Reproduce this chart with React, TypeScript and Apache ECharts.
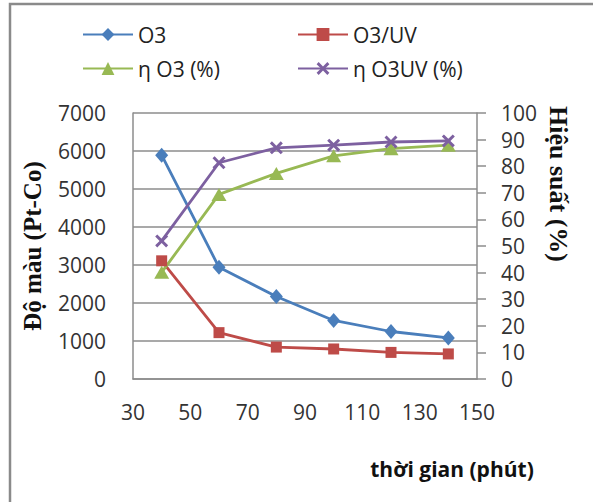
import React, { useEffect, useRef } from "react";
import * as echarts from "echarts";

const timeMinutes = [40, 60, 80, 100, 120, 140];
const colourO3 = [5890, 2940, 2170, 1540, 1250, 1080];
const colourO3UV = [3110, 1220, 840, 790, 700, 660];
const effO3 = [40.1, 69.4, 77.3, 83.9, 86.6, 87.9];
const effO3UV = [51.9, 81.3, 86.9, 87.9, 89.1, 89.5];

const seriesNames = ["O3", "O3/UV", "η O3 (%)", "η O3UV (%)"];

const SANS = "'Open Sans', 'Liberation Sans', sans-serif";
const SERIF = "'Liberation Serif', 'DejaVu Serif', serif";
const GRID_COLOR = "#8c8c8c";
const CROSS =
  "path://M0,1.6 L1.6,0 L5,3.4 L8.4,0 L10,1.6 L6.6,5 L10,8.4 L8.4,10 L5,6.6 L1.6,10 L0,8.4 L3.4,5 Z";

const pairs = (ys: number[]) => timeMinutes.map((x, i) => [x, ys[i]]);
const plain = (v: number) => String(v);

export default function App() {
  const ref = useRef<HTMLDivElement>(null);
  useEffect(() => {
    if (!ref.current) return;
    const chart = echarts.init(ref.current, undefined, { renderer: "svg" });
    const legendBase = {
      orient: "horizontal" as const,
      padding: 0,
      itemWidth: 50,
      itemHeight: 16,
      textStyle: { fontFamily: SANS, fontSize: 21, color: "#222" },
    };
    chart.setOption({
      animation: false,
      backgroundColor: "#ffffff",
      legend: [
        { ...legendBase, data: [seriesNames[0]], left: 82, top: 24 },
        { ...legendBase, data: [seriesNames[1]], left: 297, top: 24 },
        { ...legendBase, data: [seriesNames[2]], left: 82, top: 58 },
        { ...legendBase, data: [seriesNames[3]], left: 297, top: 58 },
      ],
      grid: { left: 133, right: 116, top: 113, bottom: 123 },
      xAxis: {
        type: "value",
        min: 30,
        max: 150,
        interval: 20,
        axisLine: { show: true, lineStyle: { color: GRID_COLOR, width: 1.5 } },
        axisTick: { show: false },
        splitLine: { show: false },
        axisLabel: {
          margin: 22,
          fontFamily: SANS,
          fontSize: 21,
          color: "#333",
          formatter: plain,
        },
      },
      yAxis: [
        {
          type: "value",
          min: 0,
          max: 7000,
          interval: 1000,
          position: "left",
          axisLine: { show: true, lineStyle: { color: GRID_COLOR, width: 1.5 } },
          axisTick: { show: false },
          splitLine: { show: true, lineStyle: { color: GRID_COLOR, width: 1.5 } },
          axisLabel: {
            margin: 27,
            fontFamily: SANS,
            fontSize: 21,
            color: "#333",
            formatter: plain,
          },
        },
        {
          type: "value",
          min: 0,
          max: 100,
          interval: 10,
          position: "right",
          axisLine: { show: true, lineStyle: { color: GRID_COLOR, width: 1.5 } },
          axisTick: {
            show: true,
            inside: false,
            length: 9,
            lineStyle: { color: GRID_COLOR, width: 1.5 },
          },
          splitLine: { show: false },
          axisLabel: {
            margin: 24,
            fontFamily: SANS,
            fontSize: 21,
            color: "#333",
            formatter: plain,
          },
        },
      ],
      series: [
        {
          name: seriesNames[0],
          type: "line",
          yAxisIndex: 0,
          data: pairs(colourO3),
          symbol: "diamond",
          symbolSize: [13, 15],
          itemStyle: { color: "#4a7ebb" },
          lineStyle: { color: "#4a7ebb", width: 2.8 },
        },
        {
          name: seriesNames[1],
          type: "line",
          yAxisIndex: 0,
          data: pairs(colourO3UV),
          symbol: "rect",
          symbolSize: 11,
          itemStyle: { color: "#be4b48" },
          lineStyle: { color: "#be4b48", width: 2.8 },
        },
        {
          name: seriesNames[2],
          type: "line",
          yAxisIndex: 1,
          data: pairs(effO3),
          symbol: "triangle",
          symbolSize: [15, 13],
          itemStyle: { color: "#98b954" },
          lineStyle: { color: "#98b954", width: 2.8 },
        },
        {
          name: seriesNames[3],
          type: "line",
          yAxisIndex: 1,
          data: pairs(effO3UV),
          symbol: CROSS,
          symbolSize: 13,
          itemStyle: { color: "#7d60a0" },
          lineStyle: { color: "#7d60a0", width: 2.8 },
        },
      ],
      graphic: [
        {
          type: "rect",
          shape: { x: 10, y: 4, width: 700, height: 700 },
          style: { fill: "none", stroke: "#8a8a8a", lineWidth: 2.5 },
          silent: true,
        },
        {
          type: "text",
          x: 32,
          y: 246,
          rotation: Math.PI / 2,
          style: {
            text: "Độ màu (Pt-Co)",
            fontFamily: SERIF,
            fontWeight: "bold",
            fontSize: 25,
            fill: "#111",
            align: "center",
            verticalAlign: "middle",
          },
        },
        {
          type: "text",
          x: 558,
          y: 184,
          rotation: -Math.PI / 2,
          style: {
            text: "Hiệu suất (%)",
            fontFamily: SERIF,
            fontWeight: "bold",
            fontSize: 26,
            fill: "#111",
            align: "center",
            verticalAlign: "middle",
          },
        },
        {
          type: "text",
          x: 452,
          y: 469,
          style: {
            text: "thời gian (phút)",
            fontFamily: SANS,
            fontWeight: "bold",
            fontSize: 21,
            fill: "#111",
            align: "center",
            verticalAlign: "middle",
          },
        },
      ],
    });
    return () => chart.dispose();
  }, []);
  return (
    <div
      ref={ref}
      style={{ position: "fixed", left: 0, top: 0, width: 593, height: 502 }}
    />
  );
}
